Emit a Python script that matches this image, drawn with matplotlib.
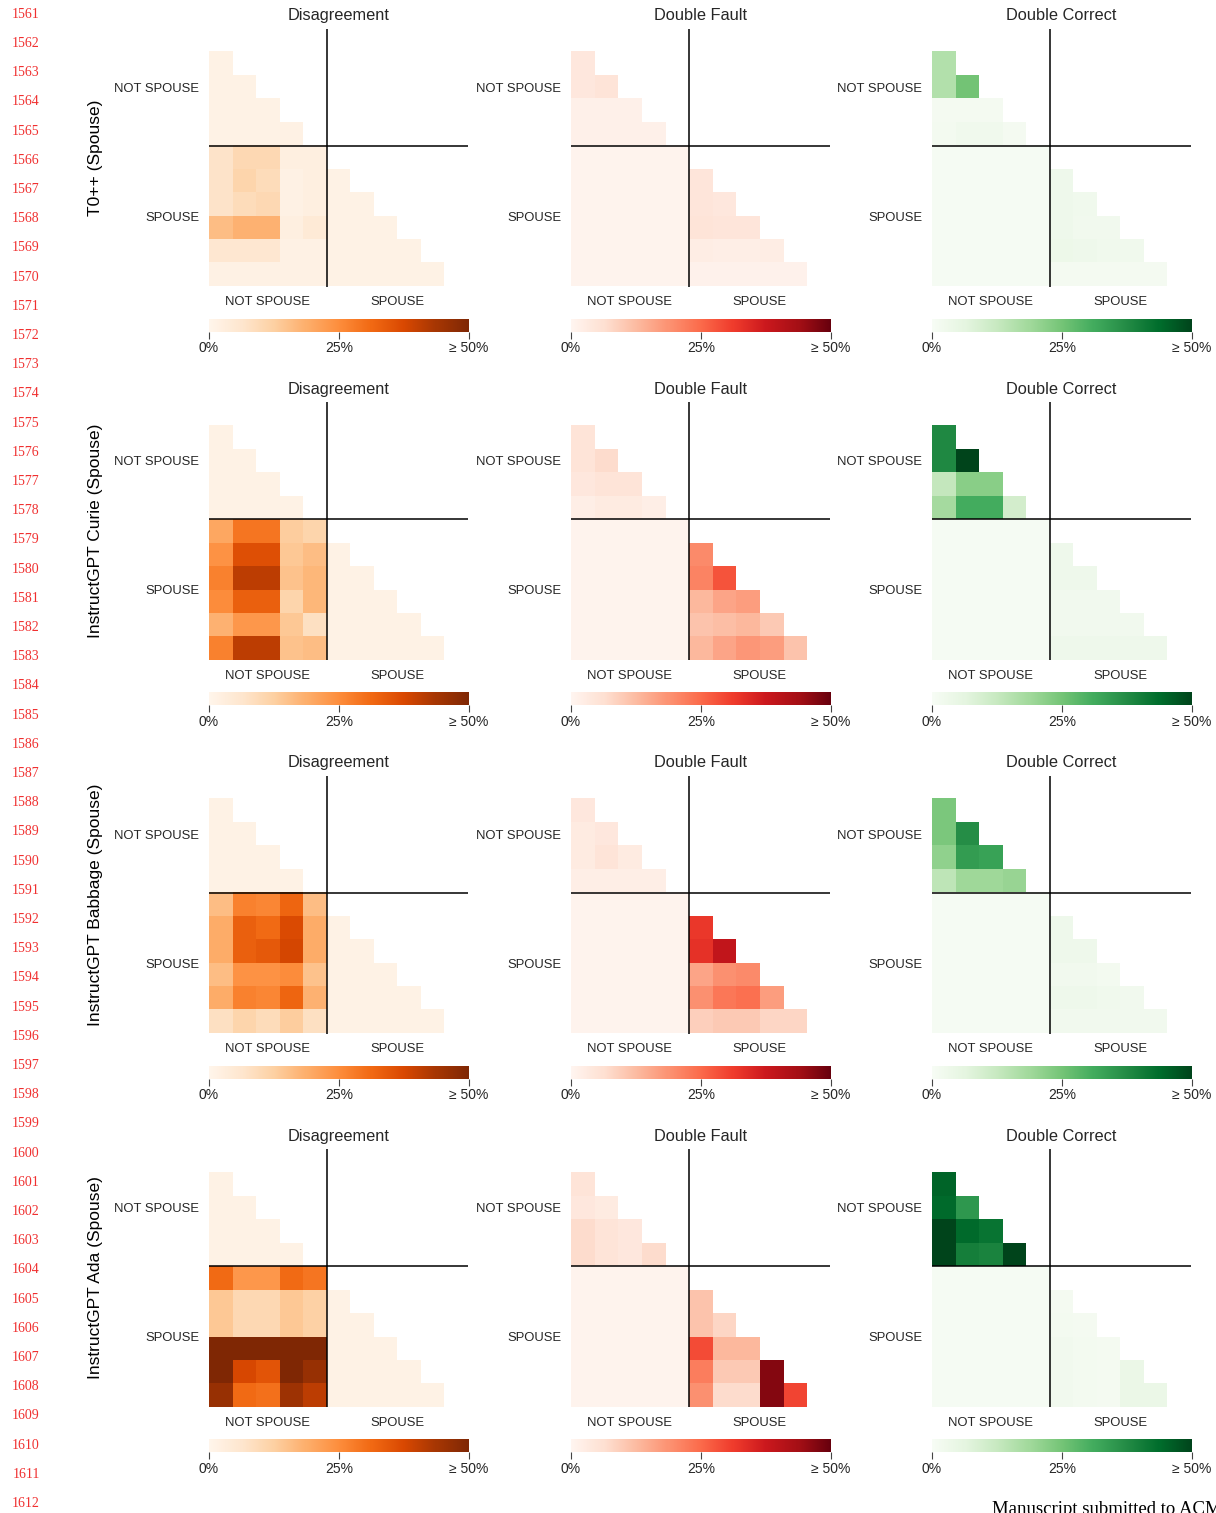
import numpy as np
import matplotlib
matplotlib.use('Agg')
import matplotlib.pyplot as plt

plt.rcParams['font.family'] = ['Liberation Sans', 'DejaVu Sans']
plt.rcParams['text.color'] = '#262626'

# Modelle i metryki
models = ['T0++ (Spouse)', 'InstructGPT Curie (Spouse)',
          'InstructGPT Babbage (Spouse)', 'InstructGPT Ada (Spouse)']
metrics = ['Disagreement', 'Double Fault', 'Double Correct']
cmaps = ['Oranges', 'Reds', 'Greens']
group_labels = ['NOT SPOUSE', 'SPOUSE']
n_not_spouse = 5
n_items = 11
cbar_ticks = [0, 0.25, 0.5]
cbar_labels = ['0%', '25%', '\u2265 50%']
line_numbers = list(range(1561, 1613))
footer = 'Manuscript submitted to ACM'

# Dolny trojkat, wiersz i ma i wartosci (wiersze 1..10)
t0_disagreement = [
    [0.012],
    [0.012, 0.012],
    [0.012, 0.012, 0.012],
    [0.012, 0.012, 0.012, 0.015],
    [0.07, 0.10, 0.10, 0.025, 0.025],
    [0.07, 0.11, 0.09, 0.015, 0.025, 0.012],
    [0.07, 0.09, 0.10, 0.015, 0.025, 0.012, 0.012],
    [0.16, 0.18, 0.18, 0.025, 0.045, 0.012, 0.012, 0.012],
    [0.055, 0.055, 0.055, 0.015, 0.015, 0.012, 0.012, 0.012, 0.012],
    [0.015, 0.015, 0.015, 0.015, 0.015, 0.012, 0.012, 0.012, 0.012, 0.012],
]
t0_double_fault = [
    [0.04],
    [0.04, 0.05],
    [0.015, 0.015, 0.015],
    [0.015, 0.015, 0.015, 0.015],
    [0.007, 0.007, 0.007, 0.007, 0.007],
    [0.007, 0.007, 0.007, 0.007, 0.007, 0.045],
    [0.007, 0.007, 0.007, 0.007, 0.007, 0.045, 0.04],
    [0.007, 0.007, 0.007, 0.007, 0.007, 0.05, 0.045, 0.045],
    [0.007, 0.007, 0.007, 0.007, 0.007, 0.025, 0.02, 0.02, 0.025],
    [0.007, 0.007, 0.007, 0.007, 0.007, 0.01, 0.01, 0.01, 0.01, 0.01],
]
t0_double_correct = [
    [0.16],
    [0.16, 0.25],
    [0.01, 0.01, 0.01],
    [0.015, 0.025, 0.025, 0.01],
    [0.005, 0.005, 0.005, 0.005, 0.005],
    [0.005, 0.005, 0.005, 0.005, 0.005, 0.03],
    [0.005, 0.005, 0.005, 0.005, 0.005, 0.03, 0.025],
    [0.005, 0.005, 0.005, 0.005, 0.005, 0.03, 0.02, 0.02],
    [0.005, 0.005, 0.005, 0.005, 0.005, 0.035, 0.03, 0.025, 0.025],
    [0.005, 0.005, 0.005, 0.005, 0.005, 0.01, 0.01, 0.01, 0.01, 0.01],
]

curie_disagreement = [
    [0.012],
    [0.012, 0.012],
    [0.012, 0.012, 0.012],
    [0.012, 0.012, 0.012, 0.012],
    [0.20, 0.29, 0.29, 0.13, 0.11],
    [0.24, 0.36, 0.36, 0.14, 0.16, 0.012],
    [0.27, 0.41, 0.41, 0.15, 0.17, 0.012, 0.012],
    [0.25, 0.33, 0.33, 0.11, 0.17, 0.012, 0.012, 0.012],
    [0.18, 0.23, 0.23, 0.14, 0.08, 0.012, 0.012, 0.012, 0.012],
    [0.27, 0.41, 0.41, 0.15, 0.16, 0.012, 0.012, 0.012, 0.012, 0.012],
]
curie_double_fault = [
    [0.05],
    [0.05, 0.07],
    [0.04, 0.05, 0.05],
    [0.02, 0.03, 0.03, 0.02],
    [0.007, 0.007, 0.007, 0.007, 0.007],
    [0.007, 0.007, 0.007, 0.007, 0.007, 0.20],
    [0.007, 0.007, 0.007, 0.007, 0.007, 0.21, 0.28],
    [0.007, 0.007, 0.007, 0.007, 0.007, 0.13, 0.16, 0.17],
    [0.007, 0.007, 0.007, 0.007, 0.007, 0.11, 0.12, 0.13, 0.10],
    [0.007, 0.007, 0.007, 0.007, 0.007, 0.13, 0.16, 0.18, 0.17, 0.11],
]
curie_double_correct = [
    [0.38],
    [0.38, 0.50],
    [0.13, 0.22, 0.22],
    [0.18, 0.31, 0.31, 0.10],
    [0.005, 0.005, 0.005, 0.005, 0.005],
    [0.005, 0.005, 0.005, 0.005, 0.005, 0.03],
    [0.005, 0.005, 0.005, 0.005, 0.005, 0.03, 0.03],
    [0.005, 0.005, 0.005, 0.005, 0.005, 0.02, 0.02, 0.02],
    [0.005, 0.005, 0.005, 0.005, 0.005, 0.02, 0.02, 0.02, 0.02],
    [0.005, 0.005, 0.005, 0.005, 0.005, 0.03, 0.03, 0.03, 0.03, 0.03],
]

babbage_disagreement = [
    [0.012],
    [0.012, 0.012],
    [0.012, 0.012, 0.012],
    [0.012, 0.012, 0.012, 0.012],
    [0.16, 0.27, 0.26, 0.32, 0.16],
    [0.19, 0.33, 0.31, 0.37, 0.19, 0.012],
    [0.19, 0.33, 0.34, 0.38, 0.19, 0.012, 0.012],
    [0.16, 0.24, 0.24, 0.25, 0.15, 0.012, 0.012, 0.012],
    [0.19, 0.27, 0.26, 0.32, 0.18, 0.012, 0.012, 0.012, 0.012],
    [0.08, 0.11, 0.09, 0.13, 0.08, 0.012, 0.012, 0.012, 0.012, 0.012],
]
babbage_double_fault = [
    [0.04],
    [0.03, 0.04],
    [0.03, 0.05, 0.03],
    [0.02, 0.02, 0.02, 0.02],
    [0.007, 0.007, 0.007, 0.007, 0.007],
    [0.007, 0.007, 0.007, 0.007, 0.007, 0.32],
    [0.007, 0.007, 0.007, 0.007, 0.007, 0.33, 0.39],
    [0.007, 0.007, 0.007, 0.007, 0.007, 0.16, 0.19, 0.20],
    [0.007, 0.007, 0.007, 0.007, 0.007, 0.19, 0.23, 0.24, 0.17],
    [0.007, 0.007, 0.007, 0.007, 0.007, 0.09, 0.10, 0.10, 0.08, 0.08],
]
babbage_double_correct = [
    [0.24],
    [0.24, 0.37],
    [0.21, 0.34, 0.33],
    [0.14, 0.19, 0.19, 0.20],
    [0.005, 0.005, 0.005, 0.005, 0.005],
    [0.005, 0.005, 0.005, 0.005, 0.005, 0.03],
    [0.005, 0.005, 0.005, 0.005, 0.005, 0.03, 0.03],
    [0.005, 0.005, 0.005, 0.005, 0.005, 0.02, 0.02, 0.015],
    [0.005, 0.005, 0.005, 0.005, 0.005, 0.03, 0.03, 0.025, 0.02],
    [0.005, 0.005, 0.005, 0.005, 0.005, 0.02, 0.02, 0.02, 0.02, 0.02],
]

ada_disagreement = [
    [0.012],
    [0.012, 0.012],
    [0.012, 0.012, 0.012],
    [0.012, 0.012, 0.012, 0.012],
    [0.31, 0.23, 0.23, 0.31, 0.29],
    [0.14, 0.10, 0.10, 0.14, 0.12, 0.012],
    [0.14, 0.10, 0.10, 0.14, 0.12, 0.012, 0.012],
    [0.55, 0.55, 0.55, 0.55, 0.55, 0.012, 0.012, 0.012],
    [0.52, 0.375, 0.35, 0.52, 0.46, 0.012, 0.012, 0.012, 0.012],
    [0.46, 0.31, 0.30, 0.45, 0.41, 0.012, 0.012, 0.012, 0.012, 0.012],
]
ada_double_fault = [
    [0.05],
    [0.04, 0.03],
    [0.07, 0.05, 0.04],
    [0.07, 0.05, 0.04, 0.07],
    [0.007, 0.007, 0.007, 0.007, 0.007],
    [0.007, 0.007, 0.007, 0.007, 0.007, 0.11],
    [0.007, 0.007, 0.007, 0.007, 0.007, 0.11, 0.08],
    [0.007, 0.007, 0.007, 0.007, 0.007, 0.29, 0.13, 0.13],
    [0.007, 0.007, 0.007, 0.007, 0.007, 0.22, 0.10, 0.10, 0.47],
    [0.007, 0.007, 0.007, 0.007, 0.007, 0.19, 0.07, 0.07, 0.47, 0.30],
]
ada_double_correct = [
    [0.45],
    [0.44, 0.35],
    [0.52, 0.44, 0.42],
    [0.52, 0.40, 0.39, 0.52],
    [0.005, 0.005, 0.005, 0.005, 0.005],
    [0.005, 0.005, 0.005, 0.005, 0.005, 0.01],
    [0.005, 0.005, 0.005, 0.005, 0.005, 0.015, 0.01],
    [0.005, 0.005, 0.005, 0.005, 0.005, 0.02, 0.015, 0.01],
    [0.005, 0.005, 0.005, 0.005, 0.005, 0.02, 0.015, 0.01, 0.04],
    [0.005, 0.005, 0.005, 0.005, 0.005, 0.02, 0.015, 0.01, 0.04, 0.04],
]

panels = [
    [t0_disagreement, t0_double_fault, t0_double_correct],
    [curie_disagreement, curie_double_fault, curie_double_correct],
    [babbage_disagreement, babbage_double_fault, babbage_double_correct],
    [ada_disagreement, ada_double_fault, ada_double_correct],
]


def to_matrix(rows):
    m = np.full((n_items, n_items), np.nan)
    for i, vals in enumerate(rows, start=1):
        m[i, :len(vals)] = vals
    return m


W, H = 1216, 1513
fig = plt.figure(figsize=(W / 100, H / 100), dpi=100)

col_left = [209, 571, 932]
row_top = [28.5, 402, 775.5, 1149]
ax_w, ax_h = 259, 258
cb_gap, cb_h = 290, 13

tick_pos = [n_not_spouse / 2, n_not_spouse + (n_items - n_not_spouse) / 2]

for r, model in enumerate(models):
    for c, metric in enumerate(metrics):
        left = col_left[c] / W
        bottom = 1 - (row_top[r] + ax_h) / H
        ax = fig.add_axes([left, bottom, ax_w / W, ax_h / H])
        data = to_matrix(panels[r][c])
        im = ax.imshow(np.ma.masked_invalid(data), cmap=cmaps[c], vmin=0, vmax=0.5,
                       extent=(0, n_items, n_items, 0), aspect='auto',
                       interpolation='nearest')
        ax.axhline(n_not_spouse, color='black', lw=1.1)
        ax.axvline(n_not_spouse, color='black', lw=1.1)
        ax.set_xlim(0, n_items)
        ax.set_ylim(n_items, 0)
        ax.set_xticks(tick_pos)
        ax.set_xticklabels(group_labels)
        ax.set_yticks(tick_pos)
        ax.set_yticklabels(group_labels)
        ax.tick_params(length=0, labelsize=9.4, colors='#262626', pad=7)
        ax.tick_params(axis='y', pad=7)
        for s in ax.spines.values():
            s.set_visible(False)
        ax.set_title(metric, fontsize=11.8, pad=6)
        if c == 0:
            ax.set_ylabel(model, fontsize=12.5, labelpad=8)

        cb_top = row_top[r] + cb_gap
        cax = fig.add_axes([left, 1 - (cb_top + cb_h) / H, (ax_w + 1) / W, cb_h / H])
        cb = fig.colorbar(im, cax=cax, orientation='horizontal')
        cb.outline.set_visible(False)
        cb.set_ticks(cbar_ticks)
        cb.set_ticklabels(cbar_labels)
        cax.tick_params(labelsize=10, length=5, width=0.8, color='#444444',
                        colors='#262626', pad=2)
        cax.tick_params(axis='x', color='#444444')

# Numery linii z lewej
for k, num in enumerate(line_numbers):
    y = 14.3 + k * 29.2
    fig.text(26 / W, 1 - y / H, str(num), color='#f03030', fontsize=10,
             family='Liberation Serif', ha='center', va='center')

fig.text(992 / W, 1 - 1501 / H, footer, fontsize=13.5, family='Liberation Serif',
         color='black', ha='left', va='top')

fig.savefig('out.png', dpi=100)
